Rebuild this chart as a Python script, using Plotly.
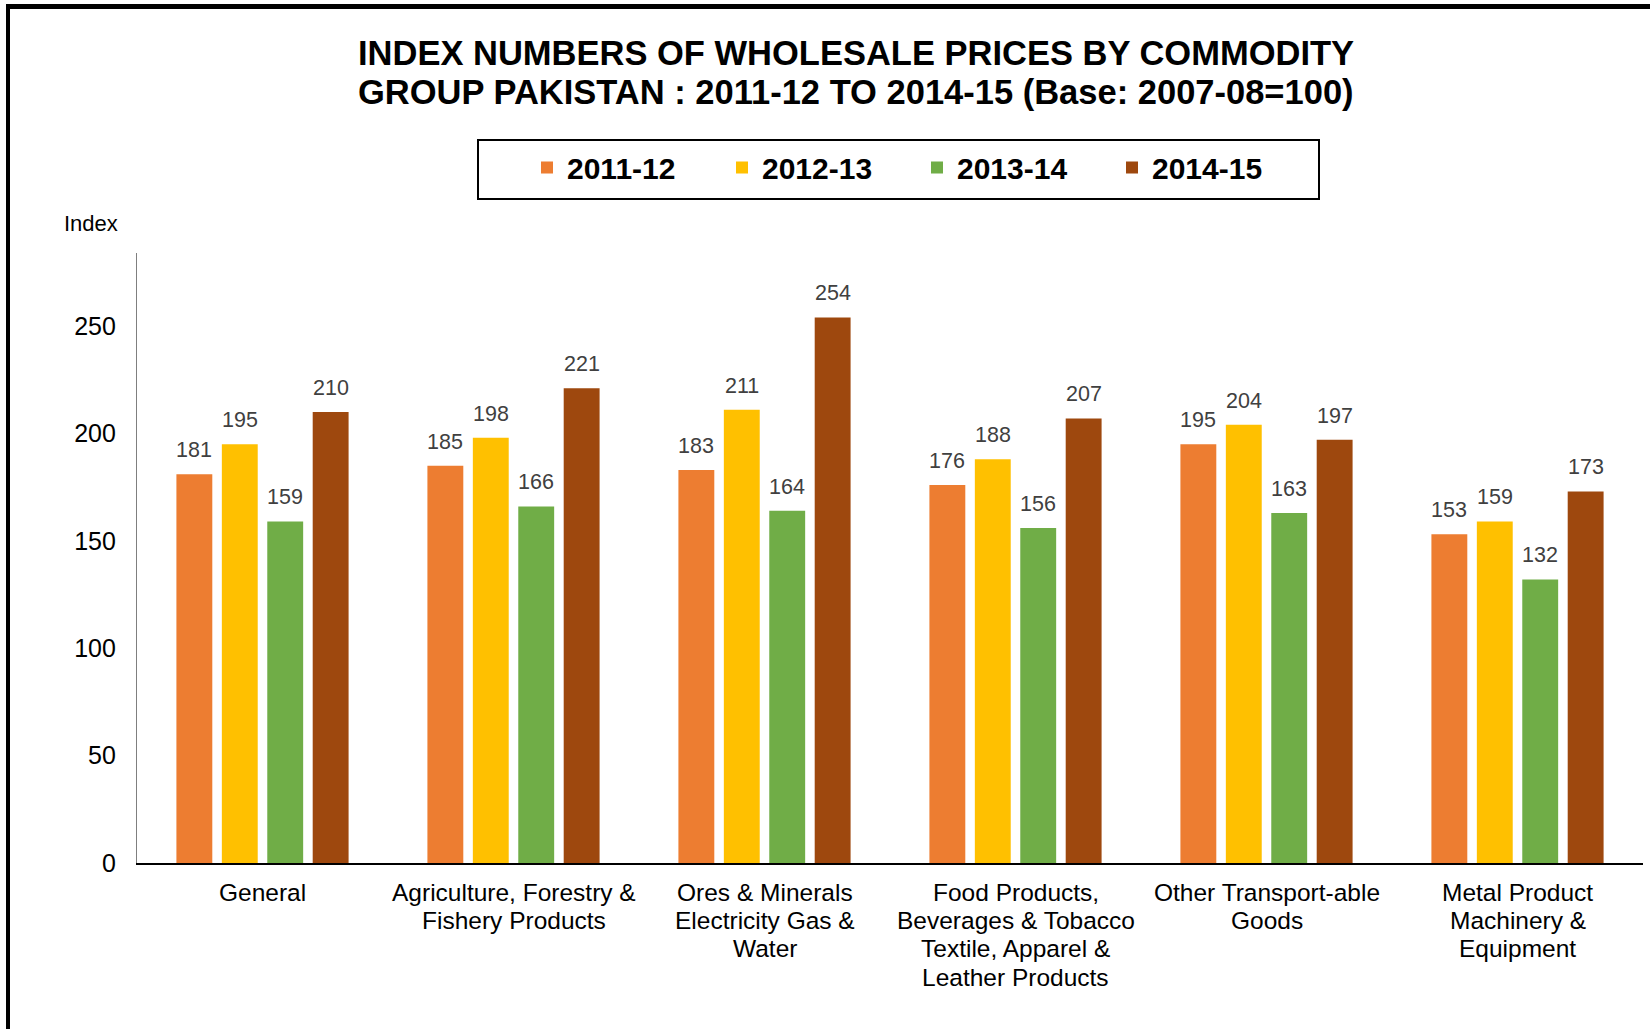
import plotly.graph_objects as go

categories = [
    "General",
    "Agriculture, Forestry &<br>Fishery Products",
    "Ores & Minerals<br>Electricity Gas &<br>Water",
    "Food Products,<br>Beverages & Tobacco<br>Textile, Apparel &<br>Leather Products",
    "Other Transport-able<br>Goods",
    "Metal Product<br>Machinery &<br>Equipment",
]
series_names = ["2011-12", "2012-13", "2013-14", "2014-15"]
v_2011_12 = [181, 185, 183, 176, 195, 153]
v_2012_13 = [195, 198, 211, 188, 204, 159]
v_2013_14 = [159, 166, 164, 156, 163, 132]
v_2014_15 = [210, 221, 254, 207, 197, 173]
series_values = [v_2011_12, v_2012_13, v_2013_14, v_2014_15]
colors = ["#ED7D31", "#FFC000", "#70AD47", "#9E480E"]
y_ticks = [0, 50, 100, 150, 200, 250]

title_line1 = "INDEX NUMBERS OF WHOLESALE PRICES BY COMMODITY"
title_line2 = "GROUP PAKISTAN : 2011-12 TO 2014-15 (Base: 2007-08=100)"
y_title = "Index"

FONT = "Liberation Sans, Arial, sans-serif"
W, H = 1650, 1029
ML, MR, MT, MB = 137, 7, 253, 166
PW = W - ML - MR
PH = H - MT - MB


def px_x(px):
    return (px - ML) / PW


def px_y(py):
    return (H - MB - py) / PH


BARGAP = 0.276
BARGROUPGAP = 0.21

fig = go.Figure()
for name, vals, col in zip(series_names, series_values, colors):
    fig.add_trace(go.Bar(
        name=name, x=categories, y=vals,
        marker=dict(color=col, line=dict(width=0)),
        hoverinfo="y+name",
    ))

# data labels
n = len(series_names)
group_w = 1 - BARGAP
slot = group_w / n
annotations = []
for i, vals in enumerate(series_values):
    off = -group_w / 2 + (i + 0.5) * slot
    for j, v in enumerate(vals):
        annotations.append(dict(
            x=j + off, y=v, xref="x", yref="y", text=str(v),
            showarrow=False, yanchor="bottom", xanchor="center", yshift=10,
            font=dict(family=FONT, size=21.5, color="#404040"),
        ))

# category labels (one annotation per line for Excel-like line spacing)
LINE_H = 28.4
for j, cat in enumerate(categories):
    for k, line in enumerate(cat.split("<br>")):
        annotations.append(dict(
            x=j, y=px_y(892 + k * LINE_H), xref="x", yref="paper", text=line,
            showarrow=False, xanchor="center", yanchor="middle",
            font=dict(family=FONT, size=24.5, color="black"),
        ))

# titles
for txt, ypx in ((title_line1, 52.5), (title_line2, 92.5)):
    annotations.append(dict(
        x=px_x(855.5), y=px_y(ypx), xref="paper", yref="paper", text="<b>" + txt + "</b>",
        showarrow=False, xanchor="center", yanchor="middle",
        font=dict(family=FONT, size=34.5, color="black"),
    ))
annotations.append(dict(
    x=px_x(90.5), y=px_y(224), xref="paper", yref="paper", text=y_title,
    showarrow=False, xanchor="center", yanchor="middle",
    font=dict(family=FONT, size=22, color="black"),
))

shapes = [
    # legend box
    dict(type="rect", xref="paper", yref="paper",
         x0=px_x(478), x1=px_x(1319), y0=px_y(199), y1=px_y(140),
         line=dict(color="black", width=2), fillcolor="rgba(0,0,0,0)"),
    # outer frame (left and top)
    dict(type="line", xref="paper", yref="paper",
         x0=px_x(8), x1=px_x(8), y0=px_y(4), y1=px_y(1040),
         line=dict(color="black", width=4)),
    dict(type="line", xref="paper", yref="paper",
         x0=px_x(6), x1=px_x(1660), y0=px_y(6.5), y1=px_y(6.5),
         line=dict(color="black", width=5)),
]

fig.update_layout(
    width=W, height=H, autosize=False,
    margin=dict(l=ML, r=MR, t=MT, b=MB, pad=0),
    paper_bgcolor="white", plot_bgcolor="white",
    barmode="group", bargap=BARGAP, bargroupgap=BARGROUPGAP,
    font=dict(family=FONT, color="black"),
    showlegend=True,
    legend=dict(
        orientation="h", x=px_x(917), y=px_y(167.5), xanchor="center", yanchor="middle",
        font=dict(family=FONT, size=30, color="black", weight="bold"),
        bgcolor="rgba(0,0,0,0)", borderwidth=0,
        entrywidth=150, itemsizing="constant",
    ),
    annotations=annotations,
    shapes=shapes,
)
fig.update_xaxes(
    type="category", showline=True, linecolor="black", linewidth=2,
    showgrid=False, ticks="", showticklabels=False, zeroline=False,
)
fig.update_yaxes(
    range=[0, 284], tickvals=y_ticks, showline=True, linecolor="#7f7f7f", linewidth=1.3,
    showgrid=False, ticks="", zeroline=False,
    tickfont=dict(family=FONT, size=25, color="black"),
    ticklabelstandoff=15,
)

fig.write_html(
    "out.html",
    config={"displayModeBar": False},
    post_script="document.body.style.margin='0';document.body.style.overflow='hidden';",
)
